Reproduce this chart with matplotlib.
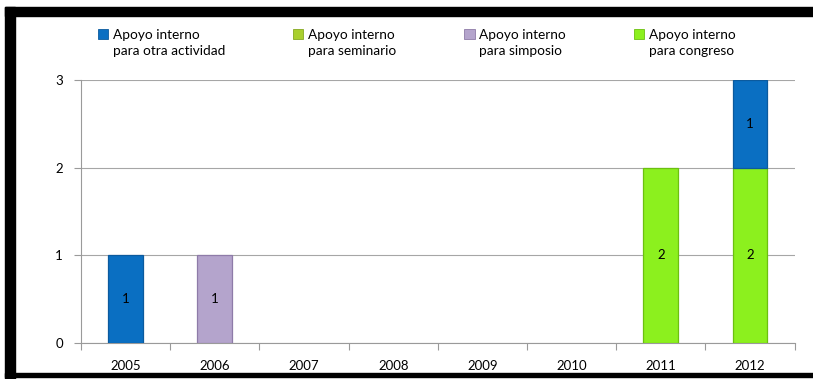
import matplotlib
matplotlib.use("Agg")
import matplotlib.pyplot as plt
import numpy as np
from matplotlib.patches import Patch, Rectangle
from matplotlib.legend_handler import HandlerPatch

years = ["2005", "2006", "2007", "2008", "2009", "2010", "2011", "2012"]
otra_actividad = [1, 0, 0, 0, 0, 0, 0, 1]
seminario = [0, 0, 0, 0, 0, 0, 0, 0]
simposio = [0, 1, 0, 0, 0, 0, 0, 0]
congreso = [0, 0, 0, 0, 0, 0, 2, 2]

labels = ["Apoyo interno\npara otra actividad", "Apoyo interno\npara seminario",
          "Apoyo interno\npara simposio", "Apoyo interno\npara congreso"]
colors = ["#0A6FC2", "#A9CF2E", "#B4A4CC", "#8CF01E"]
edges = ["#0B5A9E", "#86A822", "#8E7BA8", "#6CC010"]

plt.rcParams['font.family'] = ['Lato', 'DejaVu Sans']

fig = plt.figure(figsize=(8.13, 3.79), dpi=100)
ax = fig.add_axes([0.0996, 0.095, 0.8778, 0.694])

x = np.arange(len(years))
w = 0.39
# stacking order as drawn in the chart: congreso at the bottom
order = [(congreso, 3), (seminario, 1), (simposio, 2), (otra_actividad, 0)]
bottom = np.zeros(len(years))
for vals, ci in order:
    v = np.array(vals, dtype=float)
    mask = v > 0
    ax.bar(x[mask], v[mask], w, bottom=bottom[mask], color=colors[ci],
           edgecolor=edges[ci], linewidth=0.9, zorder=3)
    for xi, vi, bi in zip(x[mask], v[mask], bottom[mask]):
        ax.text(xi, bi + vi / 2, "%d" % vi, ha="center", va="center",
                fontsize=9.5, color="black", zorder=4)
    bottom += v

ax.set_xlim(-0.5, len(years) - 0.5)
ax.set_ylim(0, 3)
ax.set_yticks([0, 1, 2, 3])
ax.set_xticks(x)
ax.set_xticklabels(years)
ax.set_xticks(np.arange(-0.5, len(years), 1), minor=True)
ax.tick_params(axis="x", which="major", length=0, pad=12, labelsize=9.5)
ax.tick_params(axis="x", which="minor", length=5, color="#9A9A9A", width=0.8)
ax.tick_params(axis="y", length=5, color="#9A9A9A", width=0.8, pad=8, labelsize=9.5)
ax.grid(axis="y", color="#A6A6A6", linewidth=0.8, zorder=0)
for s in ["top", "right"]:
    ax.spines[s].set_visible(False)
for s in ["left", "bottom"]:
    ax.spines[s].set_color("#9A9A9A")
    ax.spines[s].set_linewidth(0.8)


def top_square(legend, orig_handle, xdescent, ydescent, width, height, fontsize):
    return Rectangle((-xdescent, -ydescent + fontsize * 0.7), width, height)


handles = [Patch(facecolor=c, edgecolor=e, linewidth=0.6) for c, e in zip(colors, edges)]
leg = fig.legend(handles, labels, ncol=4, loc="upper left", bbox_to_anchor=(0.105, 0.957),
                 frameon=False, fontsize=9.8, handlelength=0.75, handleheight=0.75,
                 handletextpad=0.35, columnspacing=5.0,
                 handler_map={Patch: HandlerPatch(patch_func=top_square)})
for t in leg.get_texts():
    t.set_linespacing(1.45)

# black frame pieces around the picture
fig.add_artist(Rectangle((0.00615, 0.958), 0.99385, 0.0235, transform=fig.transFigure,
                         color="black", zorder=10))
fig.add_artist(Rectangle((0.00615, 0.0), 0.0123, 0.9815, transform=fig.transFigure,
                         color="black", zorder=10))
fig.add_artist(Rectangle((0.00615, 0.0053), 0.99385, 0.0106, transform=fig.transFigure,
                         color="black", zorder=10))

fig.savefig("out.png", dpi=100)
